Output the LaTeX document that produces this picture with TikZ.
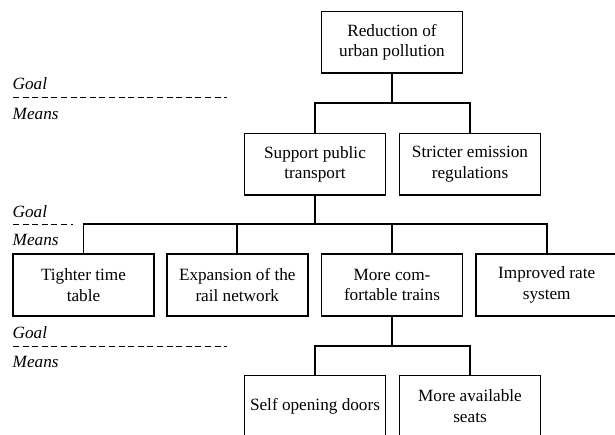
\documentclass[tikz,border=0pt]{standalone}
\usepackage{fontspec}
\setmainfont{Liberation Serif}
\begin{document}
\begin{tikzpicture}[x=1pt,y=-1pt,
  box/.style={draw,line width=1.5pt,rectangle,minimum width=141pt,minimum height=61.5pt,
    inner sep=0pt,align=center,font=\fontsize{17.2}{20.5}\selectfont},
  conn/.style={line width=1.8pt},
  lbl/.style={anchor=west,inner sep=0pt,font=\fontsize{17.2}{20.5}\selectfont\itshape},
  sep/.style={line width=1pt,dash pattern=on 6pt off 3.6pt}]
\useasboundingbox (0,0) rectangle (615,435);
\clip (0,0) rectangle (615,435);
% nodes
\node[box] (top) at (392,42.2) {Reduction of\\urban pollution};
\node[box] (sup) at (315,164.2) {Support public\\transport};
\node[box] (str) at (470,164.2) {Stricter emission\\regulations};
\node[box] (tig) at (83.5,285) {Tighter time\\table};
\node[box] (exp) at (237.3,285) {Expansion of the\\rail network};
\node[box] (mor) at (392,285) {More com-\\fortable trains};
\node[box] (imp) at (546.7,285) {Improved rate\\system};
\node[box] (sel) at (315,406) {Self opening doors};
\node[box] (ava) at (470,406) {More available\\seats};
% branch coordinates
\coordinate (b1) at (392,103.3);
\coordinate (b2) at (315,224.3);
\coordinate (b3) at (392,345.7);
% connectors
\draw[conn] (top.south) -- (b1);
\draw[conn] (sup.north) |- (b1) -| (str.north);
\draw[conn] (sup.south) -- (b2);
\draw[conn] (tig.north) |- (b2) -| (imp.north);
\draw[conn] (exp.north) -- (exp.north |- b2);
\draw[conn] (mor.north) -- (mor.north |- b2);
\draw[conn] (mor.south) -- (b3);
\draw[conn] (sel.north) |- (b3) -| (ava.north);
% goal / means labels
\node[lbl] (g1) at (12.5,84) {Goal};
\node[lbl] (m1) at (12.5,113.5) {Means};
\coordinate (d1a) at (13,97.3);
\coordinate (d1b) at (227,97.3);
\draw[sep] (d1a) -- (d1b);
\node[lbl] (g2) at (12.5,211.5) {Goal};
\node[lbl] (m2) at (12.5,240) {Means};
\coordinate (d2a) at (13,224.3);
\coordinate (d2b) at (73,224.3);
\draw[sep] (d2a) -- (d2b);
\node[lbl] (g3) at (12.5,333) {Goal};
\node[lbl] (m3) at (12.5,362) {Means};
\coordinate (d3a) at (13,346.7);
\coordinate (d3b) at (227,346.7);
\draw[sep] (d3a) -- (d3b);
\end{tikzpicture}
\end{document}
